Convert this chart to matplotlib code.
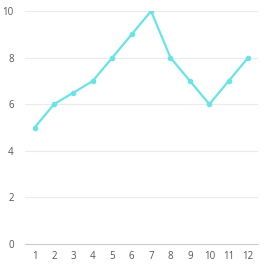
import matplotlib
matplotlib.use('Agg')
import matplotlib.pyplot as plt

plt.rcParams['font.family'] = ['Open Sans', 'DejaVu Sans']

months = [1, 2, 3, 4, 5, 6, 7, 8, 9, 10, 11, 12]
values = [5, 6, 6.5, 7, 8, 9, 10, 8, 7, 6, 7, 8]
y_ticks = [0, 2, 4, 6, 8, 10]

fig = plt.figure(figsize=(2.65, 2.64), dpi=100)
ax = fig.add_axes([0.094, 0.076, 0.879, 0.882])

ax.plot(months, values, color='#6ae3e6', linewidth=1.6, marker='o',
        markersize=3, zorder=3)

ax.set_xlim(0.5, 12.5)
ax.set_ylim(0, 10)
ax.set_xticks(months)
ax.set_yticks(y_ticks)
ax.grid(axis='y', color='#ebebeb', linewidth=0.8)
ax.set_axisbelow(True)

for side in ['top', 'right', 'left']:
    ax.spines[side].set_visible(False)
ax.spines['bottom'].set_color('#cccccc')
ax.tick_params(length=0, labelsize=7, colors='#555555')
ax.tick_params(axis='x', pad=5)
ax.tick_params(axis='y', pad=8)

fig.savefig('out.png', dpi=100)
